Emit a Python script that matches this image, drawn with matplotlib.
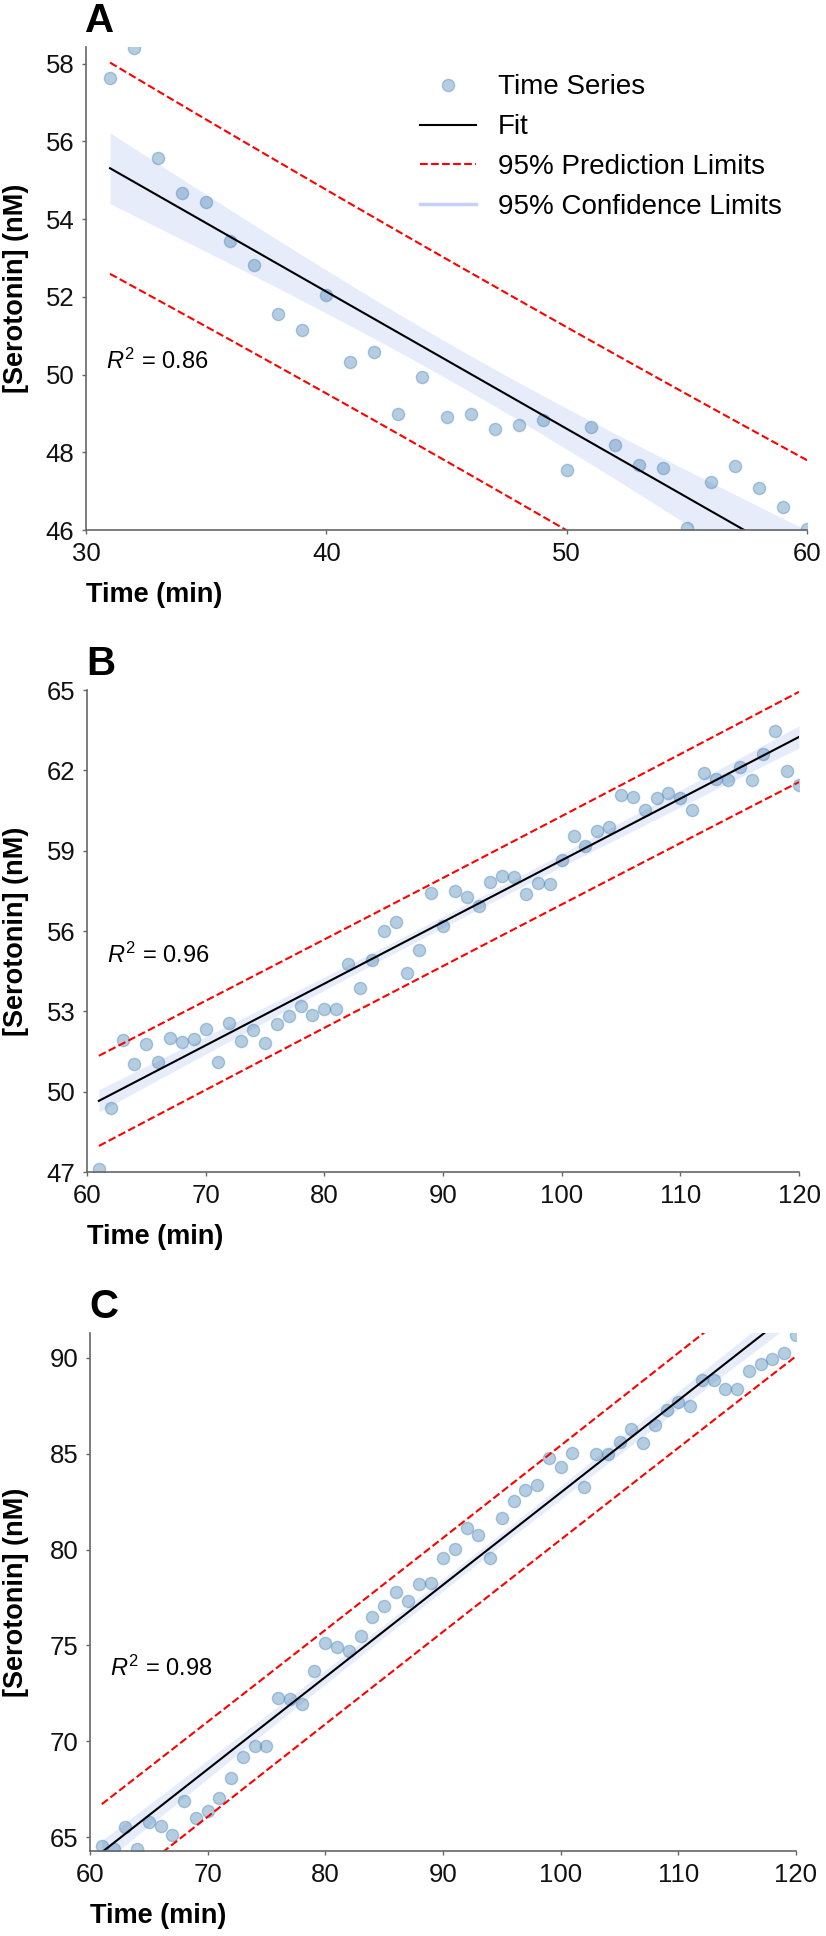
import numpy as np
import matplotlib
matplotlib.use("Agg")
import matplotlib.pyplot as plt
from matplotlib.lines import Line2D

plt.rcParams['font.family'] = ['Liberation Sans', 'DejaVu Sans']
plt.rcParams['mathtext.fontset'] = 'custom'
plt.rcParams['mathtext.rm'] = 'Liberation Sans'
plt.rcParams['mathtext.it'] = 'Liberation Sans:italic'

# data (1 sample per minute)
time_a = list(range(31, 61))
sero_a = [57.63, 58.40, 55.57, 54.67, 54.43, 53.43, 52.83, 51.55, 51.14, 52.05,
          50.33, 50.58, 48.98, 49.94, 48.90, 48.98, 48.61, 48.69, 48.82, 47.54,
          48.66, 48.19, 47.66, 47.59, 46.06, 47.24, 47.64, 47.09, 46.59, 46.02]

time_b = list(range(61, 121))
sero_b = [47.12, 49.38, 51.93, 51.02, 51.77, 51.09, 52.00, 51.85, 51.95, 52.34,
          51.10, 52.58, 51.88, 52.29, 51.80, 52.53, 52.83, 53.20, 52.88, 53.09,
          53.09, 54.76, 53.86, 54.93, 56.00, 56.35, 54.45, 55.28, 57.41, 56.17,
          57.49, 57.26, 56.92, 57.82, 58.07, 58.03, 57.39, 57.81, 57.74, 58.67,
          59.53, 59.16, 59.72, 59.90, 61.07, 61.02, 60.51, 60.98, 61.16, 60.95,
          60.51, 61.89, 61.67, 61.63, 62.14, 61.63, 62.62, 63.46, 61.99, 61.44]

time_c = list(range(61, 121))
sero_c = [64.54, 64.35, 65.51, 64.35, 65.77, 65.55, 65.11, 66.89, 66.00, 66.35,
          67.01, 68.09, 69.20, 69.77, 69.77, 72.24, 72.21, 71.93, 73.65, 75.10,
          74.92, 74.73, 75.48, 76.49, 77.04, 77.76, 77.32, 78.19, 78.23, 79.58,
          80.03, 81.13, 80.75, 79.57, 81.63, 82.54, 83.11, 83.39, 84.80, 84.31,
          85.04, 83.27, 84.99, 84.96, 85.62, 86.31, 85.57, 86.50, 87.27, 87.70,
          87.50, 88.87, 88.83, 88.37, 88.40, 89.32, 89.67, 89.95, 90.28, 91.18]

panel_letters = ['A', 'B', 'C']
r2_labels = ['0.86', '0.96', '0.98']
xlims = [(30, 60), (60, 120), (60, 120)]
ylims = [(46, 58.43), (47, 65), (64.27, 91.3)]
yticks = [[46, 48, 50, 52, 54, 56, 58], [47, 50, 53, 56, 59, 62, 65], [65, 70, 75, 80, 85, 90]]
xticks = [[30, 40, 50, 60], [60, 70, 80, 90, 100, 110, 120], [60, 70, 80, 90, 100, 110, 120]]
t_crit = [2.048, 2.002, 2.002]  # two-sided 95%, df = n-2

# axes boxes in pixels: left, top, right, bottom
W, H = 826, 1936
boxes = [(86, 47, 807, 530), (87, 690, 799, 1172), (90, 1333, 796, 1851)]
r2_pos = [0.35, 0.45, 0.353]

fig = plt.figure(figsize=(W / 100, H / 100), dpi=100)

def fit_band(x, y, t):
    x = np.asarray(x, float)
    y = np.asarray(y, float)
    n = len(x)
    slope, icpt = np.polyfit(x, y, 1)
    yhat = icpt + slope * x
    s = np.sqrt(np.sum((y - yhat) ** 2) / (n - 2))
    sxx = np.sum((x - x.mean()) ** 2)
    ci = t * s * np.sqrt(1 / n + (x - x.mean()) ** 2 / sxx)
    pi = t * s * np.sqrt(1 + 1 / n + (x - x.mean()) ** 2 / sxx)
    return yhat, ci, pi

series = [(time_a, sero_a), (time_b, sero_b), (time_c, sero_c)]
grey = '#666666'

for i, (x, y) in enumerate(series):
    l, t, r, b = boxes[i]
    ax = fig.add_axes([l / W, 1 - b / H, (r - l) / W, (b - t) / H])
    yhat, ci, pi = fit_band(x, y, t_crit[i])

    ax.fill_between(x, yhat - ci, yhat + ci, color='royalblue', alpha=0.12, lw=0)
    ax.plot(x, y, 'o', color='steelblue', alpha=0.4, ms=8.8, mec='steelblue', mew=1.0)
    ax.plot(x, yhat, color='black', lw=1.5)
    ax.plot(x, yhat + pi, color='red', lw=1.5, ls='--')
    ax.plot(x, yhat - pi, color='red', lw=1.5, ls='--')

    ax.set_xlim(*xlims[i])
    ax.set_ylim(*ylims[i])
    ax.set_xticks(xticks[i])
    ax.set_yticks(yticks[i])
    for side in ['top', 'right']:
        ax.spines[side].set_visible(False)
    for side in ['left', 'bottom']:
        ax.spines[side].set_color(grey)
        ax.spines[side].set_linewidth(1.2)
    ax.tick_params(labelsize=18.5, length=3, width=1, color=grey, pad=5.5, labelcolor='#111111')

    ax.set_xlabel('Time (min)', fontsize=19.5, fontweight='bold', loc='left', labelpad=12)
    ax.set_ylabel('[Serotonin] (nM)', fontsize=19.5, fontweight='bold')
    ax.yaxis.set_label_coords((16 - l) / (r - l), 0.5)
    ax.yaxis.label.set_va('center')

    ax.text(0.028, r2_pos[i], '$R^2$ = ' + r2_labels[i], transform=ax.transAxes,
            fontsize=17, va='center', ha='left')

    fig.text((l - 1) / W, 1 - (t - 15) / H, panel_letters[i], fontsize=29,
             fontweight='bold', ha='left', va='baseline')

    if i == 0:
        handles = [
            Line2D([], [], marker='o', ls='none', color='steelblue', alpha=0.4, ms=8.8),
            Line2D([], [], color='black', lw=1.5),
            Line2D([], [], color='red', lw=1.5, ls='--'),
            Line2D([], [], color='royalblue', alpha=0.3, lw=2.5),
        ]
        labels = ['Time Series', 'Fit', '95% Prediction Limits', '95% Confidence Limits']
        ax.legend(handles, labels, loc='upper right', frameon=False, fontsize=20,
                  bbox_to_anchor=(1.0, 0.995), labelspacing=0.5)

fig.savefig('out.png', dpi=100)
